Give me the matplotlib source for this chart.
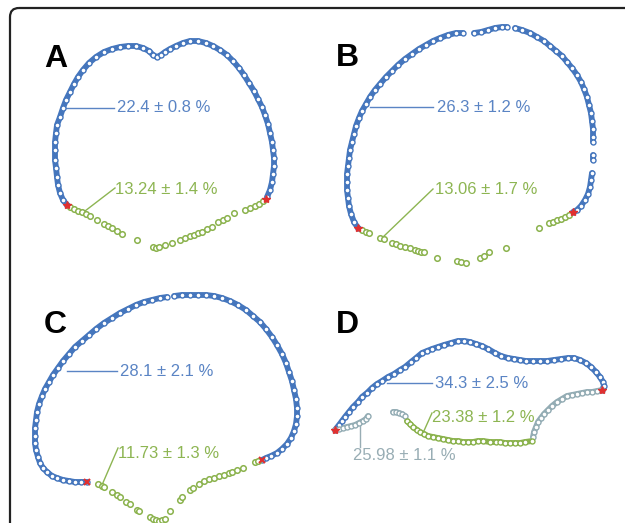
import matplotlib.pyplot as plt
from matplotlib.patches import FancyBboxPatch
import numpy as np

# outline points (pixel coords, y down)
a_blue = [(67,205),(63,200),(60,193),(58,185),(57,177),(56,168),(55,160),(55,150),(55,142),(56,133),
          (57,125),(60,117),(63,108),(66,100),(70,92),(74,84),(78,77),(83,70),(89,63),(96,57),(104,52),
          (112,49),(120,47),(128,46),(136,46),(143,48),(149,51),(153,55),(157,57),(161,55),(165,52),
          (170,49),(176,46),(183,43),(190,41),(198,41),(206,43),(213,46),(220,50),(227,55),(233,61),
          (239,68),(244,75),(249,83),(254,91),(258,99),(262,107),(265,115),(268,124),(270,133),(272,142),
          (273,150),(274,158),(274,166),(273,174),(272,182),(270,190),(267,197)]
a_green = [(70,207),(74,209),(78,211),(82,212),(86,214),(90,216),(97,220),(104,224),(108,226),(112,228),
           (117,231),(122,234),(137,240),(153,247),(156,248),(159,247),(165,245),(172,243),(180,240),
           (185,238),(190,236),(194,235),(198,233),(202,232),(207,229),(212,227),(218,222),(223,220),
           (227,218),(234,213),(245,210),(250,208),(255,206),(259,204),(263,201)]
a_marks = [(67,205),(266,199)]

b_blue = [[(358,228),(354,222),(351,214),(349,206),(348,198),(347,190),(347,182),(347,174),(348,166),
           (349,158),(350,150),(352,142),(354,134),(356,126),(359,118),(362,111),(366,104),(370,97),
           (375,90),(380,84),(386,77),(392,71),(398,65),(405,59),(412,54),(419,49),(426,45),(433,41),
           (440,38),(448,35),(456,33),(463,33)],
          [(474,33),(481,32),(488,30),(495,28),(502,27),(507,27)],
          [(515,28),(522,30),(530,33),(537,37),(544,41),(550,46),(556,51),(562,56),(567,62),(572,68),
           (577,75),(581,82),(584,89),(587,97),(589,105),(591,113),(592,121),(593,129),(593,137),(593,142)],
          [(593,155),(593,160)],
          [(592,173),(591,180),(590,187),(588,194),(585,200),(581,206),(577,210),(573,212)]]
b_green = [(362,230),(366,232),(369,233),(380,238),(384,239),(392,243),(396,244),(400,246),(405,247),
           (410,248),(415,250),(418,251),(421,252),(424,252),(437,258),(457,261),(461,262),(466,263),
           (480,258),(484,256),(489,252),(506,248),(539,228),(549,223),(553,222),(557,220),(561,219),
           (565,217),(569,215)]
b_marks = [(358,228),(573,212)]

c_blue = [[(87,482),(81,482),(75,482),(69,481),(63,480),(57,478),(52,476),(47,472),(43,468),(40,463),
           (38,457),(36,450),(35,443),(35,436),(35,428),(36,420),(37,412),(39,404),(42,396),(45,389),
           (49,382),(53,375),(58,368),(63,361),(69,354),(75,347),(82,341),(89,335),(96,329),(104,323),
           (112,318),(120,313),(128,309),(136,305),(144,302),(152,300),(160,298),(167,297)],
          [(174,296),(182,295),(190,295),(198,295),(206,295),(214,296),(222,298),(230,301),(238,305),
           (246,310),(253,316),(260,322),(266,329),(272,337),(277,345),(282,354),(286,363),(289,372),
           (292,381),(294,390),(296,399),(297,408),(297,416),(296,424),(294,431),(291,438),(287,444),
           (282,449),(277,453),(271,456),(266,458),(262,460)]]
c_green = [(98,484),(102,486),(104,487),(112,492),(117,495),(120,497),(126,502),(130,504),(137,510),
           (139,511),(150,517),(153,519),(156,520),(159,521),(162,520),(165,519),(170,511),(180,500),
           (182,497),(190,490),(193,488),(199,484),(204,481),(209,479),(214,478),(219,476),(224,475),
           (229,473),(232,472),(237,470),(243,468),(255,462),(258,461)]
c_marks = [(87,482),(262,460)]

d_blue = [(335,430),(339,425),(342,421),(345,417),(349,412),(353,407),(358,402),(362,397),(367,393),
          (372,388),(377,384),(382,381),(388,377),(394,374),(400,370),(405,367),(411,362),(416,358),
          (422,353),(427,351),(432,349),(438,347),(444,345),(451,343),(458,341),(464,341),(470,342),
          (476,344),(482,346),(488,349),(495,353),(501,356),(508,358),(514,359),(520,360),(526,361),
          (533,361),(540,361),(547,361),(554,360),(561,359),(568,358),(574,358),(580,360),(586,363),
          (591,367),(596,372),(600,377),(603,382),(604,386),(602,390)]
d_gray = [[(335,430),(339,429),(343,428),(347,427),(351,426),(355,425),(359,423),(363,421),(366,419),(368,416)],
          [(393,412),(396,412),(399,413),(402,414),(405,416)],
          [(602,390),(597,391),(592,392),(587,392),(582,393),(577,394),(572,395),(567,396),(562,399),
           (557,402),(552,406),(548,410),(544,414),(541,418),(538,422),(536,427),(534,432),(533,437)]]
d_green = [(407,421),(410,424),(413,427),(417,430),(420,432),(424,434),(428,436),(433,437),(438,438),
           (443,439),(448,440),(453,441),(458,441),(463,442),(468,442),(473,442),(478,441),(483,441),
           (490,442),(496,442),(500,442),(505,443),(510,443),(515,443),(520,443),(525,442),(532,441)]
d_marks = [(335,430),(602,390)]

panel_letters = ['A', 'B', 'C', 'D']
letter_pos = [(44, 67), (336, 66), (44, 333), (336, 333)]

# annotations: text, text position, leader start, leader end, colour key
notes = [('22.4 ± 0.8 %', (117,108), (66,108), (114,108), 'b'),
         ('13.24 ± 1.4 %', (115,190), (85,211), (115,188), 'g'),
         ('26.3 ± 1.2 %', (437,107), (370,107), (433,107), 'b'),
         ('13.06 ± 1.7 %', (435,190), (382,238), (433,189), 'g'),
         ('28.1 ± 2.1 %', (120,371), (67,371), (117,371), 'b'),
         ('11.73 ± 1.3 %', (118,453), (102,485), (118,448), 'g'),
         ('34.3 ± 2.5 %', (435,383), (387,383), (432,383), 'b'),
         ('23.38 ± 1.2 %', (432,417), (423,433), (432,413), 'g'),
         ('25.98 ± 1.1 %', (353,456), (360,422), (360,447), 'k')]

BLUE = '#4576bd'
GREEN = '#8ab24c'
GRAY = '#93acb4'
text_col = {'b': '#5a84c4', 'g': '#8db552', 'k': '#98adb4'}

fig = plt.figure(figsize=(6.25, 5.23), dpi=100)
ax = fig.add_axes([0, 0, 1, 1])
ax.set_xlim(0, 625)
ax.set_ylim(523, 0)
ax.axis('off')

frame = FancyBboxPatch((10, 8), 640, 540, boxstyle='round,pad=0,rounding_size=9',
                       fc='none', ec='#222222', lw=1.6)
ax.add_patch(frame)


def draw(seg, color, line=True):
    pts = np.array(seg)
    if line:
        ax.plot(pts[:, 0], pts[:, 1], '-', color=color, lw=4.2, solid_capstyle='round', zorder=2)
        ax.plot(pts[:, 0], pts[:, 1], 'o', ms=3.6, mfc='white', mec=color, mew=1.0, zorder=3)
    else:
        ax.plot(pts[:, 0], pts[:, 1], 'o', ms=4, mfc='white', mec=color, mew=1.1, zorder=3)


draw(a_blue, BLUE)
draw(a_green, GREEN, line=False)
for s in b_blue:
    draw(s, BLUE)
draw(b_green, GREEN, line=False)
for s in c_blue:
    draw(s, BLUE)
draw(c_green, GREEN, line=False)
draw(d_blue, BLUE)
for s in d_gray:
    draw(s, GRAY)
draw(d_green, GREEN)

for m in [a_marks, b_marks, d_marks]:
    pts = np.array(m)
    ax.plot(pts[:, 0], pts[:, 1], '*', ms=6, color='#e03030', zorder=4)
pts = np.array(c_marks)
ax.plot(pts[:, 0], pts[:, 1], 'x', ms=5, mew=1.5, color='#e03030', zorder=4)

for lab, (x, y) in zip(panel_letters, letter_pos):
    ax.text(x, y, lab, fontsize=23, fontweight='bold', family='Liberation Sans',
            ha='left', va='baseline', color='black')

for txt, (tx, ty), p0, p1, k in notes:
    ax.plot([p0[0], p1[0]], [p0[1], p1[1]], '-', color=text_col[k], lw=1.0, zorder=1)
    ax.text(tx, ty, txt, fontsize=12, family='Liberation Sans', color=text_col[k],
            ha='left', va='center')

fig.savefig('out.png', dpi=100)
